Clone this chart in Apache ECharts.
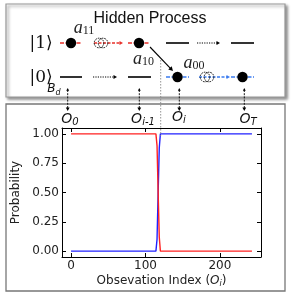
<!DOCTYPE html>
<html><head><meta charset="utf-8">
<script src="https://cdn.jsdelivr.net/npm/echarts@6/dist/echarts.min.js"></script>
<style>html,body{margin:0;padding:0;background:#fff}#c{width:291px;height:295px}</style>
</head><body><div id="c"></div>
<script>
// Data
const stateX = [0, 114, 115.5, 117, 118.5, 120, 243];
const redY   = [1, 1, 0.9, 0.5, 0.12, 0, 0];
const blueY  = [0, 0, 0.1, 0.5, 0.88, 1, 1];
const xTicks = [0, 100, 200];
const yTicks = [0, 0.25, 0.5, 0.75, 1];

const pts = (xs, ys) => xs.map((x, i) => [x, ys[i]]);

// Diagram helpers
const G = [];
function seg(x1, y1, x2, y2, color, w, dash) {
  G.push({type:'line', z:10, shape:{x1, y1, x2, y2}, style:{stroke:color, lineWidth:w, lineDash:dash || null}});
}
function head(x, y, ang, color, s) {
  const a = 0.5;
  G.push({type:'polygon', z:10, shape:{points:[[x, y],
    [x - s*Math.cos(ang - a), y - s*Math.sin(ang - a)],
    [x - s*Math.cos(ang + a), y - s*Math.sin(ang + a)]]}, style:{fill:color}});
}
function arrow(x1, y1, x2, y2, color, w, dash, s) {
  const ang = Math.atan2(y2 - y1, x2 - x1);
  seg(x1, y1, x2 - s*0.6*Math.cos(ang), y2 - s*0.6*Math.sin(ang), color, w, dash);
  head(x2, y2, ang, color, s);
}
function dot(x, y) {
  G.push({type:'circle', z:11, shape:{cx:x, cy:y, r:5.2}, style:{fill:'#000'}});
}
function ghost(x, y) {
  [-2, 2].forEach(d => G.push({type:'circle', z:11, shape:{cx:x + d, cy:y, r:4.8},
    style:{fill:null, stroke:'#111', lineWidth:1, lineDash:[1.6, 1]}}));
}
function txt(x, y, text, style) {
  G.push({type:'text', z:12, style:Object.assign({text, x, y, align:'center', verticalAlign:'middle', fill:'#111'}, style)});
}

// Boxes
G.push({type:'rect', z:1, shape:{x:6, y:4, width:279, height:93},
  style:{fill:'#fff', stroke:'#999', lineWidth:1.2, shadowBlur:3, shadowOffsetX:2, shadowOffsetY:2, shadowColor:'rgba(0,0,0,0.45)'}});
G.push({type:'rect', z:1, shape:{x:6, y:104, width:279, height:187},
  style:{fill:null, stroke:'#777', lineWidth:1.3}});

const RED = '#e8302a', BLUE = '#3a7bf0';
const y1 = 43, y0 = 77;
// upper row
seg(60, y1, 82, y1, RED, 1.6, [4, 1.5]); dot(71, y1);
arrow(94, y1, 123, y1, RED, 1.4, [3, 1.5], 4); ghost(101, y1);
seg(128, y1, 150, y1, RED, 1.6, [4, 1.5]); dot(139, y1);
seg(166, y1, 189, y1, '#000', 1.6);
arrow(197, y1, 220, y1, '#000', 1.2, [1.2, 1.2], 4);
seg(231, y1, 254, y1, '#000', 1.6);
// lower row
seg(60, y0, 82, y0, '#000', 1.6);
arrow(93, y0, 117, y0, '#000', 1.2, [1.2, 1.2], 4);
seg(128, y0, 151, y0, '#000', 1.6);
seg(166, y0, 189, y0, BLUE, 1.6, [4, 1.5]); dot(177.5, y0);
arrow(199, y0, 230, y0, BLUE, 1.4, [3, 1.5], 4); ghost(207, y0);
seg(231, y0, 254, y0, BLUE, 1.6, [4, 1.5]); dot(242.5, y0);
// transition arrow
arrow(150, 47, 173, 71, '#000', 1.1, null, 5);
// vertical dotted separator
seg(160.7, 60, 160.7, 136, '#888', 0.9, [1.5, 1.5]);
// observation arrows
[67.7, 139.3, 179.3, 244.3].forEach(x => {
  arrow(x, 90, x, 111, '#000', 0.9, [2, 1.2], 4);
  head(x, 88, -Math.PI/2, '#000', 3);
});

// texts
txt(150, 19, 'Hidden Process', {fontSize:16, fontFamily:'Liberation Sans'});
const serif = {fontSize:17, fontFamily:'DejaVu Serif', fill:'#111'};
txt(41, 44, '|1⟩', serif);
txt(41, 78, '|0⟩', serif);
const aRich = {rich:{a:{fontSize:18, fontFamily:'Liberation Serif', fontStyle:'italic', fill:'#222', lineHeight:18},
  s:{fontSize:12, fontFamily:'Liberation Serif', fill:'#222', lineHeight:8, verticalAlign:'bottom'}}};
txt(84, 28, '{a|a}{s|11}', aRich);
txt(143.5, 59, '{a|a}{s|10}', aRich);
txt(194, 63, '{a|a}{s|00}', aRich);
const oRich = (big) => ({rich:{o:{fontSize:big, fontFamily:'DejaVu Sans', fontStyle:'italic', fill:'#111', lineHeight:big + 3},
  s:{fontSize:Math.round(big*0.68), fontFamily:'DejaVu Sans', fontStyle:'italic', fill:'#111', lineHeight:6, verticalAlign:'bottom'}}});
txt(54, 89, '{o|B}{s|d}', oRich(12));
txt(70, 119, '{o|O}{s|0}', oRich(14));
txt(143, 119, '{o|O}{s|i-1}', oRich(14));
txt(179, 117, '{o|O}{s|i}', oRich(14));
txt(248, 119, '{o|O}{s|T}', oRich(14));

const axisFont = {fontSize:12, color:'#222', fontFamily:'DejaVu Sans'};
const lineBlack = {show:true, onZero:false, lineStyle:{color:'#000', width:1}};
const chart = echarts.init(document.getElementById('c'), null, {renderer:'canvas'});
chart.setOption({
  animation:false,
  grid:{left:62, right:30, top:128, bottom:38, containLabel:false},
  xAxis:[{
    type:'value', min:-12.15, max:255.15, position:'bottom',
    axisLine:lineBlack,
    axisTick:{show:true, inside:true, length:4, customValues:xTicks, lineStyle:{color:'#000'}},
    axisLabel:Object.assign({customValues:xTicks, margin:3}, axisFont),
    splitLine:{show:false},
    name:'Obsevation Index ({o|O}{s|i})', nameLocation:'middle', nameGap:15,
    nameTextStyle:{fontSize:12, color:'#222', fontFamily:'DejaVu Sans', lineHeight:15,
      rich:{o:{fontSize:12, fontStyle:'italic', color:'#222', fontFamily:'DejaVu Sans', lineHeight:15},
            s:{fontSize:8, fontStyle:'italic', color:'#222', fontFamily:'DejaVu Sans', lineHeight:6, verticalAlign:'bottom'}}}
  },{
    type:'value', min:-12.15, max:255.15, position:'top',
    axisLine:lineBlack,
    axisTick:{show:true, inside:true, length:4, customValues:xTicks, lineStyle:{color:'#000'}},
    axisLabel:{show:false}, splitLine:{show:false}
  }],
  yAxis:[{
    type:'value', min:-0.05, max:1.05, position:'left',
    axisLine:lineBlack,
    axisTick:{show:true, inside:true, length:4, customValues:yTicks, lineStyle:{color:'#000'}},
    axisLabel:Object.assign({customValues:yTicks, margin:3, formatter:v => v.toFixed(2)}, axisFont),
    splitLine:{show:false},
    name:'Probability', nameLocation:'middle', nameGap:32,
    nameTextStyle:{fontSize:12, color:'#222', fontFamily:'DejaVu Sans'}
  },{
    type:'value', min:-0.05, max:1.05, position:'right',
    axisLine:lineBlack,
    axisTick:{show:true, inside:true, length:4, customValues:yTicks, lineStyle:{color:'#000'}},
    axisLabel:{show:false}, splitLine:{show:false}
  }],
  series:[
    {type:'line', data:pts(stateX, blueY), showSymbol:false, lineStyle:{color:'#2020ff', width:1.4}, z:3},
    {type:'line', data:pts(stateX, redY), showSymbol:false, lineStyle:{color:'#ff2020', width:1.4}, z:4}
  ],
  graphic:G
});
</script></body></html>
